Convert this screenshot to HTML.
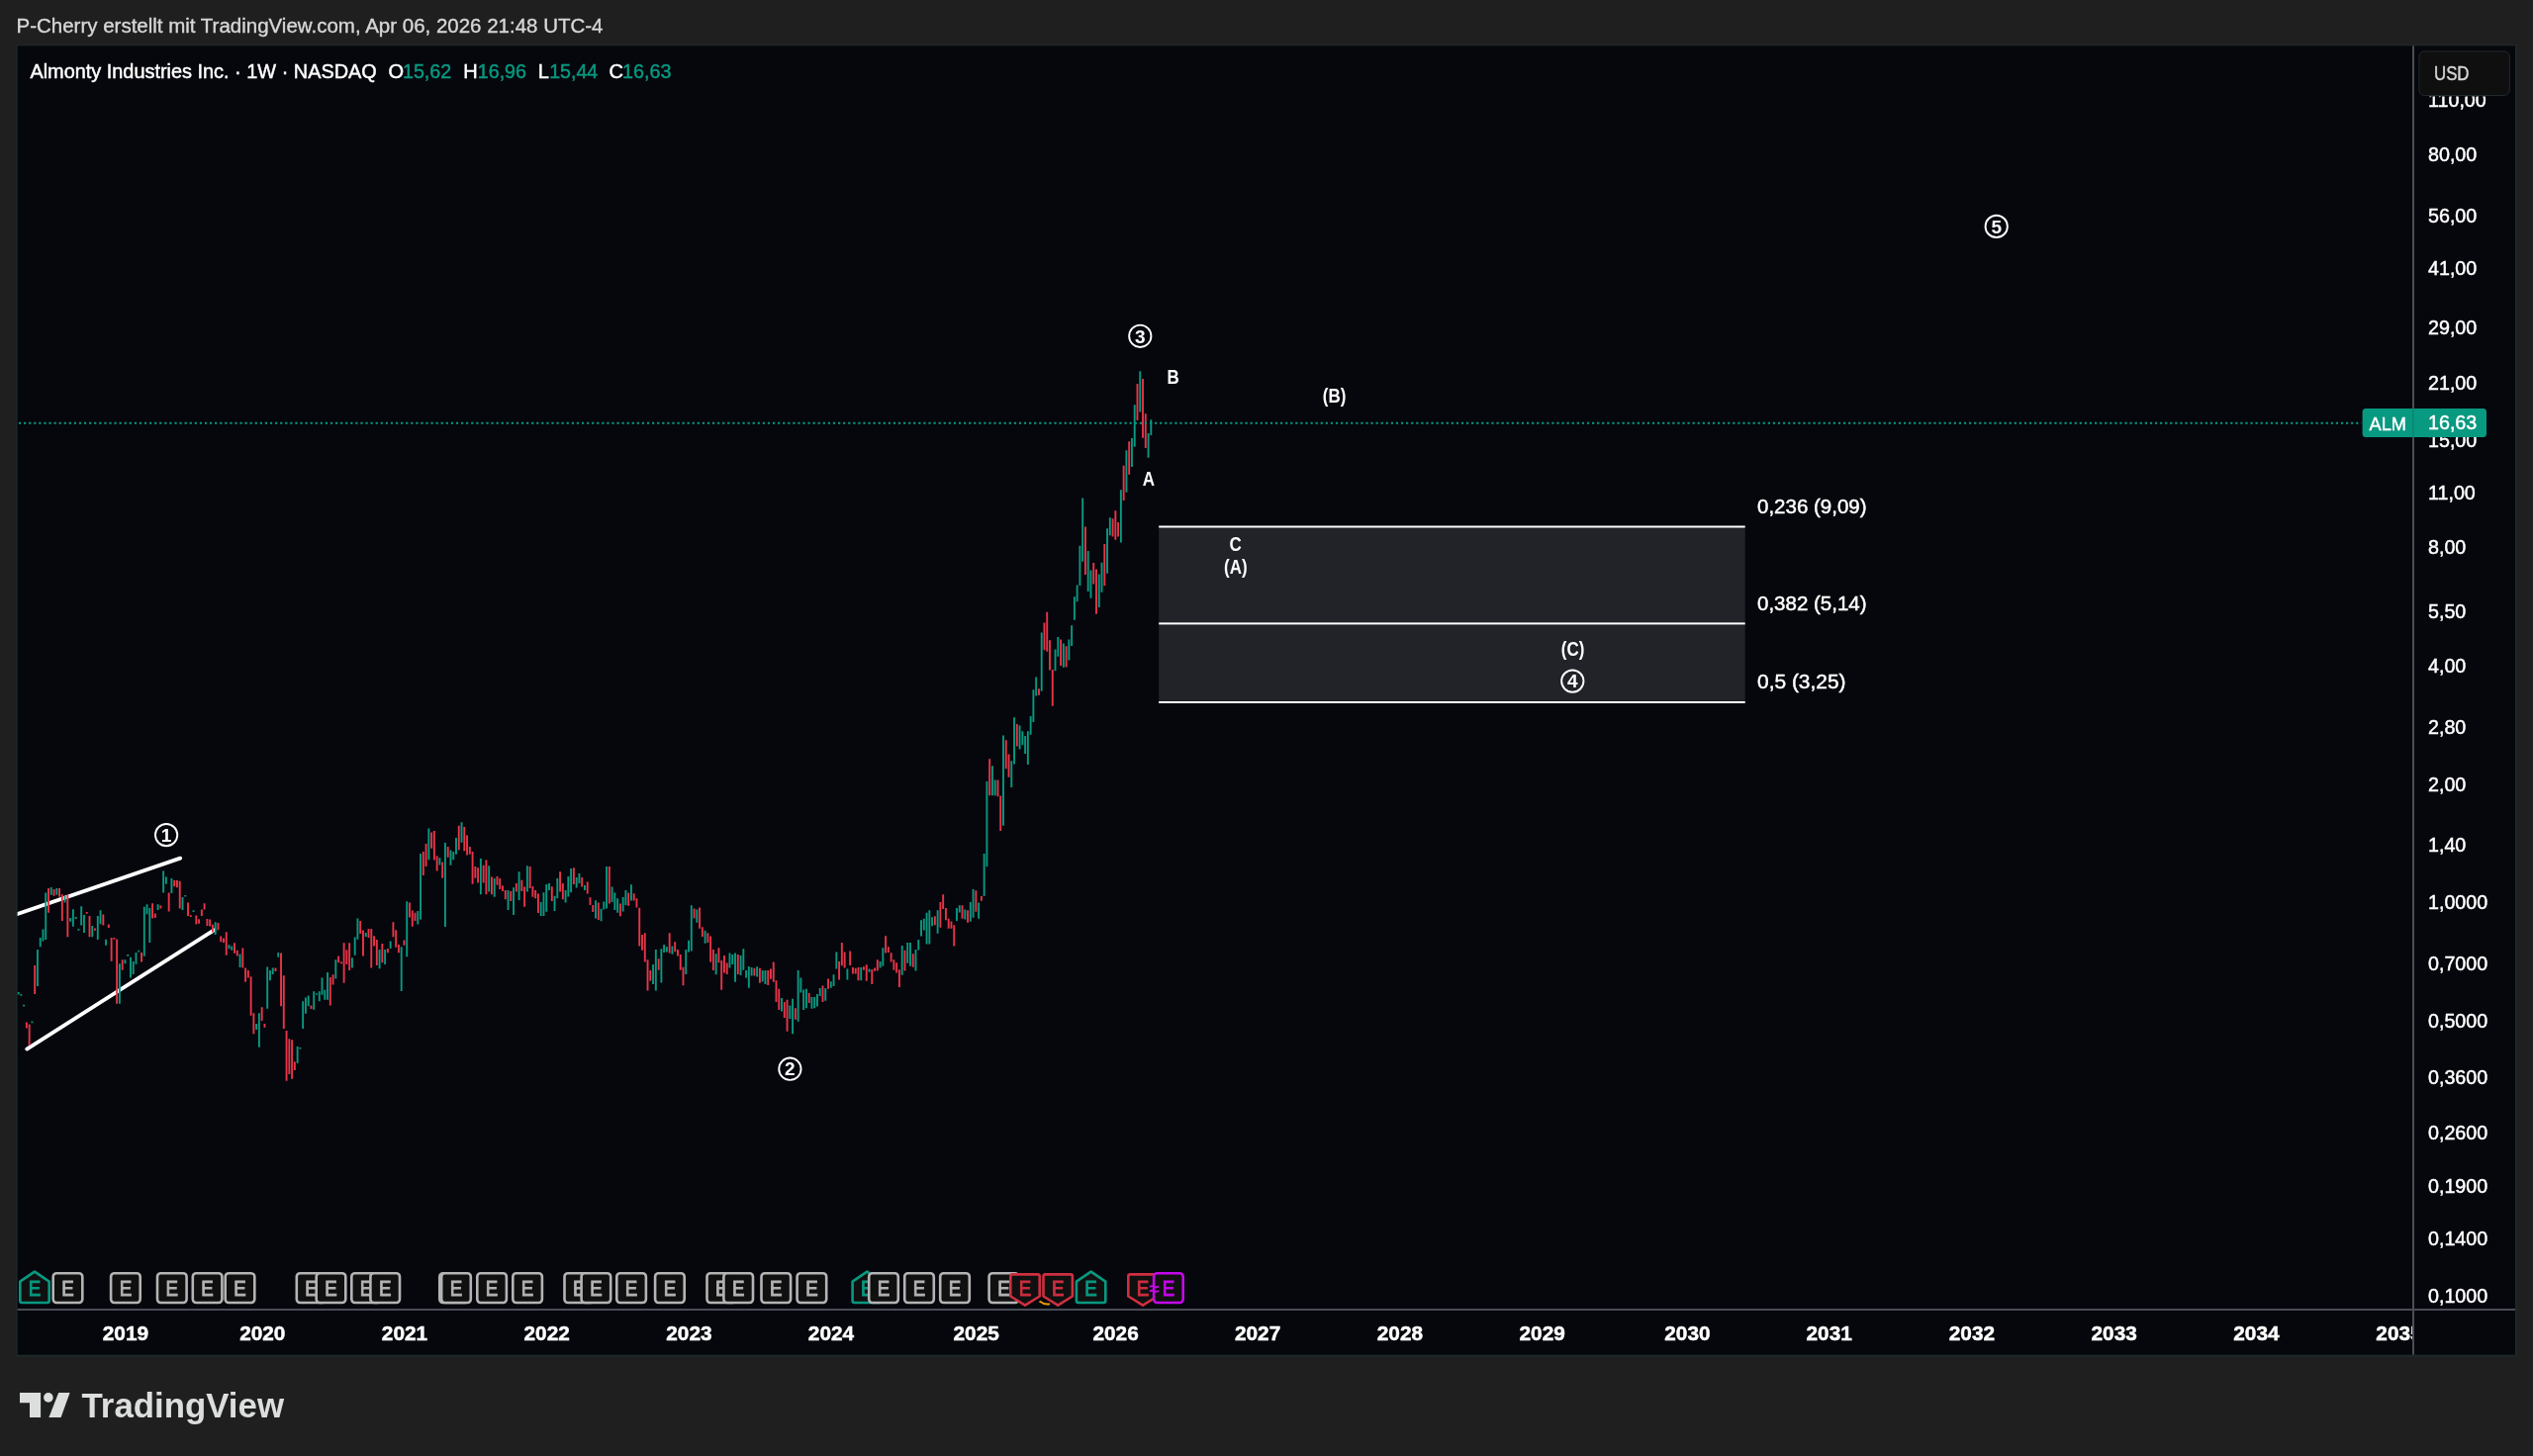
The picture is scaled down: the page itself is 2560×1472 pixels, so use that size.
<!DOCTYPE html>
<html lang="de"><head><meta charset="utf-8"><title>ALM 1W – TradingView</title>
<style>html,body{margin:0;padding:0;background:#1f1f1f;}body{width:2560px;height:1472px;overflow:hidden;}svg{display:block;will-change:transform;}</style></head>
<body>
<svg width="2560" height="1472" viewBox="0 0 2560 1472" font-family="'Liberation Sans', 'DejaVu Sans', sans-serif" shape-rendering="auto">
<defs><clipPath id="cpT"><rect x="17.6" y="1324" width="2420.4" height="45.6"/></clipPath><clipPath id="cpP"><rect x="2440" y="97.5" width="102.0" height="1226"/></clipPath><clipPath id="cpC"><rect x="17.6" y="46.3" width="2420.4" height="1277.7"/></clipPath></defs>
<rect width="2560" height="1472" fill="#1f1f1f"/>
<rect x="16.1" y="44.8" width="2527.6" height="1326.8" fill="#1e2829"/>
<rect x="17.6" y="46.3" width="2524.4" height="1323.3" fill="#06070d"/>
<text x="16.5" y="32.6" font-size="19.6" fill="#d7d7d7" stroke="#d7d7d7" stroke-width="0.35" textLength="593.0" lengthAdjust="spacingAndGlyphs">P-Cherry erstellt mit TradingView.com, Apr 06, 2026 21:48 UTC-4</text>
<text x="30.4" y="79.0" font-size="20" fill="#fff" stroke="#fff" stroke-width="0.45" textLength="350.4" lengthAdjust="spacingAndGlyphs">Almonty Industries Inc. · 1W · NASDAQ</text>
<text x="392.4" y="79.0" font-size="20" fill="#fff" stroke="#fff" stroke-width="0.45">O</text>
<text x="407.0" y="79.0" font-size="20" fill="#089981" stroke="#089981" stroke-width="0.45" textLength="49.2" lengthAdjust="spacingAndGlyphs">15,62</text>
<text x="468.2" y="79.0" font-size="20" fill="#fff" stroke="#fff" stroke-width="0.45">H</text>
<text x="482.8" y="79.0" font-size="20" fill="#089981" stroke="#089981" stroke-width="0.45" textLength="49.2" lengthAdjust="spacingAndGlyphs">16,96</text>
<text x="543.7" y="79.0" font-size="20" fill="#fff" stroke="#fff" stroke-width="0.45">L</text>
<text x="555.2" y="79.0" font-size="20" fill="#089981" stroke="#089981" stroke-width="0.45" textLength="49.1" lengthAdjust="spacingAndGlyphs">15,44</text>
<text x="615.6" y="79.0" font-size="20" fill="#fff" stroke="#fff" stroke-width="0.45">C</text>
<text x="629.0" y="79.0" font-size="20" fill="#089981" stroke="#089981" stroke-width="0.45" textLength="49.5" lengthAdjust="spacingAndGlyphs">16,63</text>
<g clip-path="url(#cpC)" stroke="#fff" stroke-width="3.8" stroke-linecap="round">
<line x1="10" y1="926.6" x2="182.2" y2="867.6"/>
<line x1="27.2" y1="1060.6" x2="216.2" y2="940.3"/>
</g>
<g clip-path="url(#cpC)">
<path fill="#089981" d="M17.64 1003.1h1.9v2.5h-1.9zM20.41 1005.1h1.9v1.6h-1.9zM23.17 1015.8h1.9v1.7h-1.9zM31.46 1032.5h1.9v1.8h-1.9zM36.99 959.9h1.9v37.2h-1.9zM39.76 948.1h1.9v9.1h-1.9zM42.52 939.4h1.9v12.1h-1.9zM45.29 902.5h1.9v47.4h-1.9zM50.82 897.0h1.9v7.8h-1.9zM56.35 898.0h1.9v6.8h-1.9zM64.64 905.7h1.9v6.9h-1.9zM70.17 928.0h1.9v3.8h-1.9zM72.94 919.2h1.9v17.6h-1.9zM75.70 927.0h1.9v2.0h-1.9zM78.47 939.0h1.9v1.7h-1.9zM81.23 916.2h1.9v19.3h-1.9zM84.00 925.0h1.9v18.0h-1.9zM92.30 936.1h1.9v11.1h-1.9zM97.83 926.0h1.9v23.9h-1.9zM100.59 920.2h1.9v14.0h-1.9zM106.12 949.8h1.9v5.9h-1.9zM119.95 974.2h1.9v40.5h-1.9zM125.48 970.3h1.9v3.9h-1.9zM128.24 965.1h1.9v1.7h-1.9zM131.01 967.7h1.9v20.9h-1.9zM133.77 972.0h1.9v13.1h-1.9zM136.54 963.1h1.9v11.7h-1.9zM139.30 960.8h1.9v1.7h-1.9zM144.83 916.8h1.9v50.0h-1.9zM147.60 914.2h1.9v10.1h-1.9zM150.36 918.1h1.9v34.9h-1.9zM158.66 914.2h1.9v5.9h-1.9zM164.19 880.5h1.9v21.9h-1.9zM166.95 886.5h1.9v7.2h-1.9zM172.48 888.1h1.9v14.8h-1.9zM183.54 907.0h1.9v13.1h-1.9zM186.31 905.0h1.9v1.6h-1.9zM194.60 920.3h1.9v1.6h-1.9zM216.72 932.2h1.9v12.7h-1.9zM230.55 955.3h1.9v3.9h-1.9zM233.31 956.6h1.9v4.2h-1.9zM241.61 964.4h1.9v13.7h-1.9zM258.19 1035.1h1.9v5.9h-1.9zM260.96 1024.2h1.9v34.6h-1.9zM269.25 977.4h1.9v42.4h-1.9zM272.02 981.1h1.9v10.1h-1.9zM274.79 978.5h1.9v6.4h-1.9zM280.31 963.1h1.9v4.6h-1.9zM299.67 1058.1h1.9v16.8h-1.9zM302.44 1059.0h1.9v1.6h-1.9zM305.20 1012.3h1.9v27.8h-1.9zM307.96 1008.4h1.9v16.4h-1.9zM310.73 1006.4h1.9v10.8h-1.9zM316.26 1002.2h1.9v18.5h-1.9zM319.02 1004.2h1.9v1.6h-1.9zM321.79 1002.2h1.9v10.1h-1.9zM324.56 988.5h1.9v17.2h-1.9zM327.32 1000.7h1.9v10.1h-1.9zM330.08 983.1h1.9v27.7h-1.9zM338.38 970.3h1.9v19.3h-1.9zM354.97 968.3h1.9v10.2h-1.9zM357.74 947.4h1.9v18.3h-1.9zM360.50 928.5h1.9v21.3h-1.9zM368.80 943.1h1.9v3.9h-1.9zM382.62 959.9h1.9v19.3h-1.9zM388.15 959.9h1.9v15.0h-1.9zM393.68 951.4h1.9v7.6h-1.9zM404.74 957.3h1.9v44.6h-1.9zM410.27 911.2h1.9v56.1h-1.9zM421.33 921.1h1.9v13.3h-1.9zM424.10 862.9h1.9v66.7h-1.9zM432.39 837.5h1.9v31.7h-1.9zM443.45 867.2h1.9v7.4h-1.9zM448.98 851.9h1.9v85.1h-1.9zM454.51 859.4h1.9v15.3h-1.9zM457.28 861.1h1.9v8.1h-1.9zM460.04 847.0h1.9v16.7h-1.9zM465.57 831.3h1.9v20.5h-1.9zM484.93 867.9h1.9v36.3h-1.9zM493.22 875.3h1.9v26.2h-1.9zM498.75 888.1h1.9v18.7h-1.9zM512.57 900.1h1.9v20.0h-1.9zM518.11 897.2h1.9v27.8h-1.9zM523.63 881.3h1.9v28.6h-1.9zM531.93 875.3h1.9v26.2h-1.9zM545.75 912.0h1.9v14.0h-1.9zM548.52 902.2h1.9v23.8h-1.9zM551.28 894.0h1.9v27.8h-1.9zM554.05 893.1h1.9v6.8h-1.9zM559.58 905.7h1.9v15.3h-1.9zM562.35 888.1h1.9v20.2h-1.9zM570.64 900.1h1.9v12.4h-1.9zM573.40 886.1h1.9v20.5h-1.9zM576.17 878.0h1.9v24.2h-1.9zM581.70 887.0h1.9v10.4h-1.9zM584.47 882.9h1.9v10.2h-1.9zM590.00 894.9h1.9v5.0h-1.9zM601.06 910.3h1.9v18.3h-1.9zM606.59 918.8h1.9v12.4h-1.9zM609.35 911.6h1.9v7.8h-1.9zM612.12 876.1h1.9v42.4h-1.9zM617.64 896.6h1.9v15.3h-1.9zM620.41 902.5h1.9v17.6h-1.9zM623.18 908.3h1.9v14.4h-1.9zM628.71 907.0h1.9v14.4h-1.9zM631.47 900.1h1.9v14.8h-1.9zM637.00 894.2h1.9v16.4h-1.9zM659.12 975.1h1.9v20.0h-1.9zM661.88 960.1h1.9v41.3h-1.9zM667.41 959.2h1.9v34.3h-1.9zM670.18 955.0h1.9v8.1h-1.9zM672.95 957.3h1.9v5.2h-1.9zM678.48 956.6h1.9v8.2h-1.9zM692.30 960.1h1.9v24.9h-1.9zM695.07 950.7h1.9v11.7h-1.9zM697.83 915.2h1.9v46.3h-1.9zM703.36 919.4h1.9v13.3h-1.9zM711.65 940.7h1.9v13.1h-1.9zM722.72 964.2h1.9v21.1h-1.9zM736.54 963.4h1.9v15.0h-1.9zM739.31 965.1h1.9v9.8h-1.9zM742.07 963.4h1.9v29.4h-1.9zM747.60 966.0h1.9v20.0h-1.9zM750.37 959.2h1.9v21.5h-1.9zM753.13 981.1h1.9v7.4h-1.9zM755.89 977.1h1.9v21.7h-1.9zM758.66 977.9h1.9v8.7h-1.9zM764.19 977.2h1.9v10.3h-1.9zM769.72 981.1h1.9v11.4h-1.9zM772.49 981.1h1.9v14.0h-1.9zM789.08 1009.1h1.9v13.4h-1.9zM797.37 1016.6h1.9v13.4h-1.9zM800.13 1009.8h1.9v35.5h-1.9zM805.67 981.1h1.9v51.6h-1.9zM808.43 988.6h1.9v15.0h-1.9zM811.20 1000.6h1.9v20.4h-1.9zM813.96 999.7h1.9v19.6h-1.9zM819.49 1008.1h1.9v11.7h-1.9zM822.25 1008.1h1.9v11.1h-1.9zM825.02 1004.9h1.9v12.7h-1.9zM827.78 999.0h1.9v8.1h-1.9zM833.32 999.0h1.9v12.7h-1.9zM838.85 992.2h1.9v6.5h-1.9zM841.61 985.3h1.9v11.7h-1.9zM844.38 962.5h1.9v17.0h-1.9zM855.44 979.4h1.9v11.1h-1.9zM869.26 977.9h1.9v13.3h-1.9zM877.56 979.4h1.9v3.3h-1.9zM888.62 972.0h1.9v6.6h-1.9zM891.38 958.2h1.9v18.6h-1.9zM910.74 956.0h1.9v29.8h-1.9zM916.26 953.1h1.9v20.7h-1.9zM919.03 953.1h1.9v23.7h-1.9zM924.56 960.0h1.9v21.6h-1.9zM927.33 950.0h1.9v10.6h-1.9zM930.09 930.3h1.9v16.1h-1.9zM932.86 928.7h1.9v11.7h-1.9zM935.62 922.7h1.9v31.9h-1.9zM938.38 920.3h1.9v34.3h-1.9zM941.15 927.2h1.9v9.0h-1.9zM946.68 920.3h1.9v23.4h-1.9zM966.04 917.9h1.9v13.2h-1.9zM968.80 915.3h1.9v7.2h-1.9zM974.33 919.5h1.9v10.1h-1.9zM979.86 911.9h1.9v19.8h-1.9zM982.62 899.0h1.9v28.7h-1.9zM988.16 912.5h1.9v16.2h-1.9zM993.69 862.9h1.9v43.0h-1.9zM996.45 790.1h1.9v85.9h-1.9zM1001.98 774.2h1.9v30.0h-1.9zM1004.75 788.4h1.9v15.9h-1.9zM1013.04 743.5h1.9v91.3h-1.9zM1021.34 769.2h1.9v26.7h-1.9zM1024.10 725.2h1.9v47.2h-1.9zM1029.63 733.5h1.9v24.1h-1.9zM1032.39 739.3h1.9v14.0h-1.9zM1035.16 743.9h1.9v18.0h-1.9zM1037.92 739.3h1.9v33.8h-1.9zM1040.69 724.1h1.9v18.6h-1.9zM1043.45 697.3h1.9v32.7h-1.9zM1046.22 684.4h1.9v19.2h-1.9zM1051.75 639.6h1.9v59.1h-1.9zM1065.57 656.6h1.9v21.6h-1.9zM1068.34 644.0h1.9v19.8h-1.9zM1073.87 650.5h1.9v24.2h-1.9zM1079.40 646.4h1.9v21.2h-1.9zM1082.16 632.2h1.9v20.8h-1.9zM1084.93 603.3h1.9v23.4h-1.9zM1087.69 591.5h1.9v16.7h-1.9zM1090.46 551.8h1.9v40.3h-1.9zM1093.22 503.4h1.9v64.3h-1.9zM1098.75 556.9h1.9v41.0h-1.9zM1101.52 576.4h1.9v28.4h-1.9zM1109.81 580.5h1.9v33.5h-1.9zM1112.58 568.7h1.9v30.0h-1.9zM1118.11 534.2h1.9v45.5h-1.9zM1120.88 523.2h1.9v18.0h-1.9zM1131.93 495.2h1.9v53.2h-1.9zM1137.46 455.3h1.9v42.4h-1.9zM1142.99 443.0h1.9v29.1h-1.9zM1145.76 409.3h1.9v42.5h-1.9zM1151.29 375.2h1.9v41.2h-1.9zM1159.59 437.9h1.9v24.9h-1.9zM1162.35 424.3h1.9v15.7h-1.9z"/>
<path fill="#e83548" d="M25.93 1033.4h1.9v6.1h-1.9zM28.70 1035.4h1.9v21.5h-1.9zM34.23 976.0h1.9v29.0h-1.9zM48.05 898.0h1.9v24.7h-1.9zM53.58 898.9h1.9v6.8h-1.9zM59.11 898.0h1.9v8.7h-1.9zM61.88 904.2h1.9v26.8h-1.9zM67.41 904.4h1.9v42.8h-1.9zM86.77 922.0h1.9v1.7h-1.9zM89.53 926.0h1.9v21.3h-1.9zM95.06 938.4h1.9v2.3h-1.9zM103.36 924.4h1.9v11.1h-1.9zM108.89 934.6h1.9v3.3h-1.9zM111.65 948.1h1.9v23.6h-1.9zM114.42 948.1h1.9v1.7h-1.9zM117.18 949.4h1.9v65.3h-1.9zM122.71 970.3h1.9v10.4h-1.9zM142.07 963.1h1.9v9.4h-1.9zM153.13 913.3h1.9v15.3h-1.9zM155.89 923.6h1.9v4.3h-1.9zM161.42 915.5h1.9v3.0h-1.9zM169.72 902.4h1.9v19.2h-1.9zM175.25 890.0h1.9v6.3h-1.9zM178.01 890.0h1.9v7.2h-1.9zM180.78 890.7h1.9v27.8h-1.9zM189.07 912.6h1.9v13.3h-1.9zM191.84 925.3h1.9v1.7h-1.9zM197.37 925.5h1.9v9.1h-1.9zM200.13 929.2h1.9v4.6h-1.9zM202.90 919.4h1.9v6.5h-1.9zM205.66 913.3h1.9v6.1h-1.9zM208.43 928.9h1.9v7.2h-1.9zM211.19 929.6h1.9v6.8h-1.9zM213.96 934.7h1.9v7.8h-1.9zM219.49 933.1h1.9v7.2h-1.9zM222.25 946.4h1.9v5.9h-1.9zM225.02 948.5h1.9v4.6h-1.9zM227.78 942.2h1.9v23.5h-1.9zM236.08 953.3h1.9v10.4h-1.9zM238.84 960.8h1.9v5.6h-1.9zM244.37 958.6h1.9v20.0h-1.9zM247.14 978.4h1.9v14.4h-1.9zM249.90 981.1h1.9v7.4h-1.9zM252.67 987.2h1.9v39.6h-1.9zM255.43 1024.2h1.9v21.1h-1.9zM263.73 1018.3h1.9v13.6h-1.9zM266.49 1035.1h1.9v3.7h-1.9zM277.55 978.5h1.9v3.5h-1.9zM283.08 963.5h1.9v53.8h-1.9zM285.84 986.3h1.9v53.8h-1.9zM288.61 1042.1h1.9v50.7h-1.9zM291.38 1050.3h1.9v35.8h-1.9zM294.14 1051.2h1.9v39.6h-1.9zM296.90 1073.4h1.9v8.5h-1.9zM313.50 1016.6h1.9v3.3h-1.9zM332.85 987.9h1.9v28.7h-1.9zM335.62 985.3h1.9v10.2h-1.9zM341.14 966.6h1.9v6.7h-1.9zM343.91 972.2h1.9v2.0h-1.9zM346.68 953.3h1.9v40.5h-1.9zM349.44 960.2h1.9v14.9h-1.9zM352.20 953.3h1.9v27.7h-1.9zM363.26 931.1h1.9v12.8h-1.9zM366.03 940.5h1.9v26.1h-1.9zM371.56 938.9h1.9v9.1h-1.9zM374.32 939.0h1.9v39.6h-1.9zM377.09 946.2h1.9v10.2h-1.9zM379.86 949.9h1.9v26.1h-1.9zM385.38 954.0h1.9v19.3h-1.9zM390.92 959.0h1.9v4.2h-1.9zM396.44 932.2h1.9v15.0h-1.9zM399.21 940.3h1.9v17.4h-1.9zM401.98 955.1h1.9v8.1h-1.9zM407.50 950.5h1.9v5.2h-1.9zM413.04 912.5h1.9v15.1h-1.9zM415.80 920.4h1.9v16.4h-1.9zM418.56 922.7h1.9v8.2h-1.9zM426.86 861.1h1.9v23.8h-1.9zM429.62 852.9h1.9v23.1h-1.9zM435.16 841.5h1.9v16.2h-1.9zM437.92 840.1h1.9v29.4h-1.9zM440.69 865.3h1.9v15.3h-1.9zM446.22 871.4h1.9v16.4h-1.9zM451.75 856.1h1.9v10.7h-1.9zM462.81 834.8h1.9v24.5h-1.9zM468.33 835.9h1.9v24.4h-1.9zM471.10 844.4h1.9v20.0h-1.9zM473.87 856.1h1.9v7.6h-1.9zM476.63 861.1h1.9v32.6h-1.9zM479.39 876.1h1.9v11.7h-1.9zM482.16 877.3h1.9v15.1h-1.9zM487.69 874.8h1.9v17.6h-1.9zM490.45 869.6h1.9v34.6h-1.9zM495.99 886.4h1.9v17.8h-1.9zM501.51 886.1h1.9v8.7h-1.9zM504.28 888.1h1.9v10.8h-1.9zM507.05 895.5h1.9v5.4h-1.9zM509.81 900.1h1.9v9.1h-1.9zM515.34 900.9h1.9v10.1h-1.9zM520.87 893.1h1.9v8.5h-1.9zM526.40 889.8h1.9v11.1h-1.9zM529.16 896.6h1.9v20.2h-1.9zM534.70 876.0h1.9v21.9h-1.9zM537.46 895.9h1.9v10.8h-1.9zM540.23 900.1h1.9v8.2h-1.9zM542.99 903.4h1.9v19.6h-1.9zM556.82 896.3h1.9v14.6h-1.9zM565.11 881.3h1.9v20.2h-1.9zM567.88 893.1h1.9v16.2h-1.9zM578.94 877.3h1.9v16.7h-1.9zM587.23 887.0h1.9v9.5h-1.9zM592.76 891.4h1.9v12.0h-1.9zM595.52 907.3h1.9v7.8h-1.9zM598.29 915.1h1.9v6.9h-1.9zM603.82 912.5h1.9v17.4h-1.9zM614.88 876.1h1.9v37.5h-1.9zM625.94 913.6h1.9v12.7h-1.9zM634.24 902.4h1.9v13.3h-1.9zM639.76 903.3h1.9v7.3h-1.9zM642.53 908.3h1.9v9.1h-1.9zM645.29 917.8h1.9v38.8h-1.9zM648.06 944.9h1.9v15.9h-1.9zM650.83 943.2h1.9v29.4h-1.9zM653.59 970.3h1.9v31.1h-1.9zM656.36 981.1h1.9v10.7h-1.9zM664.65 969.3h1.9v11.5h-1.9zM675.71 943.2h1.9v20.2h-1.9zM681.24 952.3h1.9v9.9h-1.9zM684.00 960.1h1.9v6.5h-1.9zM686.77 965.1h1.9v15.7h-1.9zM689.53 977.8h1.9v18.4h-1.9zM700.60 918.5h1.9v10.1h-1.9zM706.12 917.4h1.9v21.3h-1.9zM708.89 937.3h1.9v9.8h-1.9zM714.42 943.2h1.9v9.9h-1.9zM717.19 946.4h1.9v26.1h-1.9zM719.95 960.1h1.9v20.9h-1.9zM725.48 958.3h1.9v15.0h-1.9zM728.25 971.0h1.9v29.8h-1.9zM731.01 966.0h1.9v17.4h-1.9zM733.77 973.6h1.9v11.5h-1.9zM744.84 965.1h1.9v20.0h-1.9zM761.43 978.8h1.9v7.8h-1.9zM766.96 978.8h1.9v15.0h-1.9zM775.25 981.1h1.9v14.9h-1.9zM778.01 979.4h1.9v10.4h-1.9zM780.78 972.6h1.9v20.1h-1.9zM783.55 991.2h1.9v21.9h-1.9zM786.31 999.7h1.9v21.3h-1.9zM791.84 1013.1h1.9v15.9h-1.9zM794.61 1010.8h1.9v32.0h-1.9zM802.90 1019.2h1.9v11.5h-1.9zM816.73 1004.0h1.9v10.1h-1.9zM830.55 996.4h1.9v16.7h-1.9zM836.08 989.6h1.9v10.1h-1.9zM847.14 972.0h1.9v18.5h-1.9zM849.90 953.1h1.9v23.1h-1.9zM852.67 962.5h1.9v16.1h-1.9zM858.20 961.5h1.9v14.4h-1.9zM860.97 977.9h1.9v6.5h-1.9zM863.73 978.8h1.9v5.6h-1.9zM866.50 977.9h1.9v13.3h-1.9zM872.02 977.2h1.9v3.5h-1.9zM874.79 975.2h1.9v16.6h-1.9zM880.32 980.1h1.9v14.8h-1.9zM883.09 978.5h1.9v3.3h-1.9zM885.85 970.2h1.9v11.4h-1.9zM894.14 946.2h1.9v17.2h-1.9zM896.91 957.3h1.9v5.6h-1.9zM899.68 963.3h1.9v9.3h-1.9zM902.44 970.2h1.9v10.6h-1.9zM905.21 973.2h1.9v10.2h-1.9zM907.97 980.2h1.9v17.7h-1.9zM913.50 960.8h1.9v20.8h-1.9zM921.80 964.2h1.9v13.5h-1.9zM943.92 926.3h1.9v9.0h-1.9zM949.45 911.9h1.9v25.8h-1.9zM952.21 904.3h1.9v14.8h-1.9zM954.98 917.9h1.9v12.4h-1.9zM957.74 928.7h1.9v10.0h-1.9zM960.50 931.4h1.9v7.3h-1.9zM963.27 935.3h1.9v21.3h-1.9zM971.57 915.3h1.9v13.5h-1.9zM977.10 920.3h1.9v12.4h-1.9zM985.39 900.2h1.9v21.5h-1.9zM990.92 905.9h1.9v4.8h-1.9zM999.22 767.3h1.9v36.9h-1.9zM1007.51 788.4h1.9v16.9h-1.9zM1010.27 804.5h1.9v35.4h-1.9zM1015.81 748.2h1.9v29.1h-1.9zM1018.57 762.4h1.9v23.4h-1.9zM1026.87 731.9h1.9v22.5h-1.9zM1048.98 696.2h1.9v6.6h-1.9zM1054.51 629.5h1.9v27.7h-1.9zM1057.28 618.7h1.9v40.1h-1.9zM1060.04 647.3h1.9v30.2h-1.9zM1062.81 676.9h1.9v36.8h-1.9zM1071.11 646.4h1.9v26.7h-1.9zM1076.63 653.3h1.9v21.1h-1.9zM1095.99 532.5h1.9v48.6h-1.9zM1104.28 569.0h1.9v21.4h-1.9zM1107.05 575.4h1.9v45.3h-1.9zM1115.35 550.1h1.9v42.2h-1.9zM1123.64 524.3h1.9v18.1h-1.9zM1126.40 516.3h1.9v29.5h-1.9zM1129.17 528.1h1.9v14.5h-1.9zM1134.70 470.8h1.9v35.2h-1.9zM1140.23 446.3h1.9v33.5h-1.9zM1148.52 387.9h1.9v37.0h-1.9zM1154.05 382.9h1.9v59.9h-1.9zM1156.82 418.3h1.9v34.6h-1.9z"/>
</g>
<rect x="1171.2" y="532.5" width="592.5" height="177.5" fill="#212329"/>
<rect x="1171.2" y="531.5" width="592.5" height="2" fill="#fff"/>
<rect x="1171.2" y="629.4" width="592.5" height="2" fill="#fff"/>
<rect x="1171.2" y="709.0" width="592.5" height="2" fill="#fff"/>
<text x="1776.0" y="518.9" font-size="20" fill="#fff" stroke="#fff" stroke-width="0.45" textLength="110.5" lengthAdjust="spacingAndGlyphs">0,236 (9,09)</text>
<text x="1776.0" y="616.8" font-size="20" fill="#fff" stroke="#fff" stroke-width="0.45" textLength="110.5" lengthAdjust="spacingAndGlyphs">0,382 (5,14)</text>
<text x="1776.0" y="696.4" font-size="20" fill="#fff" stroke="#fff" stroke-width="0.45" textLength="89.5" lengthAdjust="spacingAndGlyphs">0,5 (3,25)</text>
<line x1="18.95" y1="427.7" x2="2386.5" y2="427.7" stroke="#089981" stroke-width="2" stroke-dasharray="2.2 2.88"/>
<circle cx="168.1" cy="844.1" r="11.15" fill="none" stroke="#fff" stroke-width="1.9"/>
<text x="168.1" y="850.8" font-size="19" fill="#fff" font-weight="bold" text-anchor="middle">1</text>
<circle cx="798.4" cy="1080.7" r="11.15" fill="none" stroke="#fff" stroke-width="1.9"/>
<text x="798.4" y="1087.4" font-size="19" fill="#fff" font-weight="bold" text-anchor="middle">2</text>
<circle cx="1152.3" cy="339.8" r="11.15" fill="none" stroke="#fff" stroke-width="1.9"/>
<text x="1152.3" y="346.5" font-size="19" fill="#fff" font-weight="bold" text-anchor="middle">3</text>
<circle cx="1589.3" cy="688.6" r="11.15" fill="none" stroke="#fff" stroke-width="1.9"/>
<text x="1589.3" y="695.3" font-size="19" fill="#fff" font-weight="bold" text-anchor="middle">4</text>
<circle cx="2017.7" cy="228.9" r="11.15" fill="none" stroke="#fff" stroke-width="1.9"/>
<text x="2017.7" y="235.6" font-size="19" fill="#fff" font-weight="bold" text-anchor="middle">5</text>
<text transform="translate(1185.6 388.0) scale(0.88 1)" font-size="19.3" font-weight="bold" text-anchor="middle" fill="#fff">B</text>
<text transform="translate(1348.6 407.1) scale(0.88 1)" font-size="19.3" font-weight="bold" text-anchor="middle" fill="#fff">(B)</text>
<text transform="translate(1160.8 490.9) scale(0.88 1)" font-size="19.3" font-weight="bold" text-anchor="middle" fill="#fff">A</text>
<text transform="translate(1248.6 556.6) scale(0.88 1)" font-size="19.3" font-weight="bold" text-anchor="middle" fill="#fff">C</text>
<text transform="translate(1248.9 580.3) scale(0.88 1)" font-size="19.3" font-weight="bold" text-anchor="middle" fill="#fff">(A)</text>
<text transform="translate(1589.6 663.1) scale(0.88 1)" font-size="19.3" font-weight="bold" text-anchor="middle" fill="#fff">(C)</text>
<rect x="2438" y="46.3" width="2" height="1323.3" fill="#4a4d56"/>
<rect x="17.6" y="1323" width="2524.4" height="2" fill="#4a4d56"/>
<g clip-path="url(#cpP)">
<text x="2454.0" y="107.9" font-size="19.7" fill="#fff" stroke="#fff" stroke-width="0.45">110,00</text>
<text x="2454.0" y="162.9" font-size="19.7" fill="#fff" stroke="#fff" stroke-width="0.45">80,00</text>
<text x="2454.0" y="224.5" font-size="19.7" fill="#fff" stroke="#fff" stroke-width="0.45">56,00</text>
<text x="2454.0" y="278.3" font-size="19.7" fill="#fff" stroke="#fff" stroke-width="0.45">41,00</text>
<text x="2454.0" y="338.1" font-size="19.7" fill="#fff" stroke="#fff" stroke-width="0.45">29,00</text>
<text x="2454.0" y="393.8" font-size="19.7" fill="#fff" stroke="#fff" stroke-width="0.45">21,00</text>
<text x="2454.0" y="451.9" font-size="19.7" fill="#fff" stroke="#fff" stroke-width="0.45">15,00</text>
<text x="2454.0" y="505.4" font-size="19.7" fill="#fff" stroke="#fff" stroke-width="0.45">11,00</text>
<text x="2454.0" y="560.4" font-size="19.7" fill="#fff" stroke="#fff" stroke-width="0.45">8,00</text>
<text x="2454.0" y="625.1" font-size="19.7" fill="#fff" stroke="#fff" stroke-width="0.45">5,50</text>
<text x="2454.0" y="680.1" font-size="19.7" fill="#fff" stroke="#fff" stroke-width="0.45">4,00</text>
<text x="2454.0" y="741.6" font-size="19.7" fill="#fff" stroke="#fff" stroke-width="0.45">2,80</text>
<text x="2454.0" y="799.7" font-size="19.7" fill="#fff" stroke="#fff" stroke-width="0.45">2,00</text>
<text x="2454.0" y="861.3" font-size="19.7" fill="#fff" stroke="#fff" stroke-width="0.45">1,40</text>
<text x="2454.0" y="919.4" font-size="19.7" fill="#fff" stroke="#fff" stroke-width="0.45">1,0000</text>
<text x="2454.0" y="981.0" font-size="19.7" fill="#fff" stroke="#fff" stroke-width="0.45">0,7000</text>
<text x="2454.0" y="1039.1" font-size="19.7" fill="#fff" stroke="#fff" stroke-width="0.45">0,5000</text>
<text x="2454.0" y="1095.8" font-size="19.7" fill="#fff" stroke="#fff" stroke-width="0.45">0,3600</text>
<text x="2454.0" y="1152.0" font-size="19.7" fill="#fff" stroke="#fff" stroke-width="0.45">0,2600</text>
<text x="2454.0" y="1206.1" font-size="19.7" fill="#fff" stroke="#fff" stroke-width="0.45">0,1900</text>
<text x="2454.0" y="1258.8" font-size="19.7" fill="#fff" stroke="#fff" stroke-width="0.45">0,1400</text>
<text x="2454.0" y="1316.9" font-size="19.7" fill="#fff" stroke="#fff" stroke-width="0.45">0,1000</text>
</g>
<rect x="2444.9" y="51.9" width="91.4" height="44.6" rx="5.5" fill="#0f0f0f" stroke="#232a2d" stroke-width="1"/>
<text x="2460.0" y="80.8" font-size="19.5" fill="#d4d4d6" stroke="#d4d4d6" stroke-width="0.45" textLength="35.5" lengthAdjust="spacingAndGlyphs">USD</text>
<rect x="2387.6" y="413" width="125.4" height="29" rx="3.5" fill="#089981"/>
<rect x="2438" y="413" width="1.6" height="29" fill="#0b8671"/>
<text x="2394.6" y="434.6" font-size="19" fill="#fff" stroke="#fff" stroke-width="0.45" textLength="37.4" lengthAdjust="spacingAndGlyphs">ALM</text>
<text x="2454.0" y="434.3" font-size="19.7" fill="#fff" stroke="#fff" stroke-width="0.45">16,63</text>
<g clip-path="url(#cpT)">
<text x="126.9" y="1354.9" font-size="20.5" fill="#fff" stroke="#fff" stroke-width="0.45" font-weight="bold" text-anchor="middle" textLength="46.3" lengthAdjust="spacingAndGlyphs">2019</text>
<text x="265.3" y="1354.9" font-size="20.5" fill="#fff" stroke="#fff" stroke-width="0.45" font-weight="bold" text-anchor="middle" textLength="46.3" lengthAdjust="spacingAndGlyphs">2020</text>
<text x="409.0" y="1354.9" font-size="20.5" fill="#fff" stroke="#fff" stroke-width="0.45" font-weight="bold" text-anchor="middle" textLength="46.3" lengthAdjust="spacingAndGlyphs">2021</text>
<text x="552.7" y="1354.9" font-size="20.5" fill="#fff" stroke="#fff" stroke-width="0.45" font-weight="bold" text-anchor="middle" textLength="46.3" lengthAdjust="spacingAndGlyphs">2022</text>
<text x="696.4" y="1354.9" font-size="20.5" fill="#fff" stroke="#fff" stroke-width="0.45" font-weight="bold" text-anchor="middle" textLength="46.3" lengthAdjust="spacingAndGlyphs">2023</text>
<text x="840.0" y="1354.9" font-size="20.5" fill="#fff" stroke="#fff" stroke-width="0.45" font-weight="bold" text-anchor="middle" textLength="46.3" lengthAdjust="spacingAndGlyphs">2024</text>
<text x="986.7" y="1354.9" font-size="20.5" fill="#fff" stroke="#fff" stroke-width="0.45" font-weight="bold" text-anchor="middle" textLength="46.3" lengthAdjust="spacingAndGlyphs">2025</text>
<text x="1127.6" y="1354.9" font-size="20.5" fill="#fff" stroke="#fff" stroke-width="0.45" font-weight="bold" text-anchor="middle" textLength="46.3" lengthAdjust="spacingAndGlyphs">2026</text>
<text x="1271.1" y="1354.9" font-size="20.5" fill="#fff" stroke="#fff" stroke-width="0.45" font-weight="bold" text-anchor="middle" textLength="46.3" lengthAdjust="spacingAndGlyphs">2027</text>
<text x="1414.9" y="1354.9" font-size="20.5" fill="#fff" stroke="#fff" stroke-width="0.45" font-weight="bold" text-anchor="middle" textLength="46.3" lengthAdjust="spacingAndGlyphs">2028</text>
<text x="1558.7" y="1354.9" font-size="20.5" fill="#fff" stroke="#fff" stroke-width="0.45" font-weight="bold" text-anchor="middle" textLength="46.3" lengthAdjust="spacingAndGlyphs">2029</text>
<text x="1705.4" y="1354.9" font-size="20.5" fill="#fff" stroke="#fff" stroke-width="0.45" font-weight="bold" text-anchor="middle" textLength="46.3" lengthAdjust="spacingAndGlyphs">2030</text>
<text x="1848.7" y="1354.9" font-size="20.5" fill="#fff" stroke="#fff" stroke-width="0.45" font-weight="bold" text-anchor="middle" textLength="46.3" lengthAdjust="spacingAndGlyphs">2031</text>
<text x="1992.9" y="1354.9" font-size="20.5" fill="#fff" stroke="#fff" stroke-width="0.45" font-weight="bold" text-anchor="middle" textLength="46.3" lengthAdjust="spacingAndGlyphs">2032</text>
<text x="2136.7" y="1354.9" font-size="20.5" fill="#fff" stroke="#fff" stroke-width="0.45" font-weight="bold" text-anchor="middle" textLength="46.3" lengthAdjust="spacingAndGlyphs">2033</text>
<text x="2280.4" y="1354.9" font-size="20.5" fill="#fff" stroke="#fff" stroke-width="0.45" font-weight="bold" text-anchor="middle" textLength="46.3" lengthAdjust="spacingAndGlyphs">2034</text>
<text x="2424.5" y="1354.9" font-size="20.5" fill="#fff" stroke="#fff" stroke-width="0.45" font-weight="bold" text-anchor="middle" textLength="46.3" lengthAdjust="spacingAndGlyphs">2035</text>
</g>
<g clip-path="url(#cpC)">
<path d="M20.3 1315.0V1295.6L35.0 1285.6L49.7 1295.6V1315.0Q49.7 1317.0 47.7 1317.0H22.3Q20.3 1317.0 20.3 1315.0Z" fill="#101010" stroke="#089981" stroke-width="2.6" stroke-linejoin="round"/>
<text transform="translate(35.0 1310.3) scale(0.84 1)" font-size="22.3" text-anchor="middle" fill="#089981" stroke="#089981" stroke-width="0.9">E</text>
<rect x="53.7" y="1287.2" width="29.6" height="29.8" rx="3.5" fill="#101010" stroke="#b4b4b4" stroke-width="2.6"/>
<text transform="translate(68.5 1310.3) scale(0.84 1)" font-size="22.3" text-anchor="middle" fill="#b4b4b4" stroke="#b4b4b4" stroke-width="0.9">E</text>
<rect x="112.1" y="1287.2" width="29.6" height="29.8" rx="3.5" fill="#101010" stroke="#b4b4b4" stroke-width="2.6"/>
<text transform="translate(126.9 1310.3) scale(0.84 1)" font-size="22.3" text-anchor="middle" fill="#b4b4b4" stroke="#b4b4b4" stroke-width="0.9">E</text>
<rect x="159.0" y="1287.2" width="29.6" height="29.8" rx="3.5" fill="#101010" stroke="#b4b4b4" stroke-width="2.6"/>
<text transform="translate(173.8 1310.3) scale(0.84 1)" font-size="22.3" text-anchor="middle" fill="#b4b4b4" stroke="#b4b4b4" stroke-width="0.9">E</text>
<rect x="194.8" y="1287.2" width="29.6" height="29.8" rx="3.5" fill="#101010" stroke="#b4b4b4" stroke-width="2.6"/>
<text transform="translate(209.6 1310.3) scale(0.84 1)" font-size="22.3" text-anchor="middle" fill="#b4b4b4" stroke="#b4b4b4" stroke-width="0.9">E</text>
<rect x="227.7" y="1287.2" width="29.6" height="29.8" rx="3.5" fill="#101010" stroke="#b4b4b4" stroke-width="2.6"/>
<text transform="translate(242.5 1310.3) scale(0.84 1)" font-size="22.3" text-anchor="middle" fill="#b4b4b4" stroke="#b4b4b4" stroke-width="0.9">E</text>
<rect x="299.8" y="1287.2" width="29.6" height="29.8" rx="3.5" fill="#101010" stroke="#b4b4b4" stroke-width="2.6"/>
<text transform="translate(314.6 1310.3) scale(0.84 1)" font-size="22.3" text-anchor="middle" fill="#b4b4b4" stroke="#b4b4b4" stroke-width="0.9">E</text>
<rect x="319.7" y="1287.2" width="29.6" height="29.8" rx="3.5" fill="#101010" stroke="#b4b4b4" stroke-width="2.6"/>
<text transform="translate(334.5 1310.3) scale(0.84 1)" font-size="22.3" text-anchor="middle" fill="#b4b4b4" stroke="#b4b4b4" stroke-width="0.9">E</text>
<rect x="355.3" y="1287.2" width="29.6" height="29.8" rx="3.5" fill="#101010" stroke="#b4b4b4" stroke-width="2.6"/>
<text transform="translate(370.1 1310.3) scale(0.84 1)" font-size="22.3" text-anchor="middle" fill="#b4b4b4" stroke="#b4b4b4" stroke-width="0.9">E</text>
<rect x="374.4" y="1287.2" width="29.6" height="29.8" rx="3.5" fill="#101010" stroke="#b4b4b4" stroke-width="2.6"/>
<text transform="translate(389.2 1310.3) scale(0.84 1)" font-size="22.3" text-anchor="middle" fill="#b4b4b4" stroke="#b4b4b4" stroke-width="0.9">E</text>
<rect x="444.3" y="1287.2" width="29.6" height="29.8" rx="3.5" fill="#101010" stroke="#b4b4b4" stroke-width="2.6"/>
<text transform="translate(459.1 1310.3) scale(0.84 1)" font-size="22.3" text-anchor="middle" fill="#b4b4b4" stroke="#b4b4b4" stroke-width="0.9">E</text>
<rect x="446.2" y="1287.2" width="29.6" height="29.8" rx="3.5" fill="#101010" stroke="#b4b4b4" stroke-width="2.6"/>
<text transform="translate(461.0 1310.3) scale(0.84 1)" font-size="22.3" text-anchor="middle" fill="#b4b4b4" stroke="#b4b4b4" stroke-width="0.9">E</text>
<rect x="482.3" y="1287.2" width="29.6" height="29.8" rx="3.5" fill="#101010" stroke="#b4b4b4" stroke-width="2.6"/>
<text transform="translate(497.1 1310.3) scale(0.84 1)" font-size="22.3" text-anchor="middle" fill="#b4b4b4" stroke="#b4b4b4" stroke-width="0.9">E</text>
<rect x="518.3" y="1287.2" width="29.6" height="29.8" rx="3.5" fill="#101010" stroke="#b4b4b4" stroke-width="2.6"/>
<text transform="translate(533.1 1310.3) scale(0.84 1)" font-size="22.3" text-anchor="middle" fill="#b4b4b4" stroke="#b4b4b4" stroke-width="0.9">E</text>
<rect x="570.5" y="1287.2" width="29.6" height="29.8" rx="3.5" fill="#101010" stroke="#b4b4b4" stroke-width="2.6"/>
<text transform="translate(585.3 1310.3) scale(0.84 1)" font-size="22.3" text-anchor="middle" fill="#b4b4b4" stroke="#b4b4b4" stroke-width="0.9">E</text>
<rect x="587.6" y="1287.2" width="29.6" height="29.8" rx="3.5" fill="#101010" stroke="#b4b4b4" stroke-width="2.6"/>
<text transform="translate(602.4 1310.3) scale(0.84 1)" font-size="22.3" text-anchor="middle" fill="#b4b4b4" stroke="#b4b4b4" stroke-width="0.9">E</text>
<rect x="623.3" y="1287.2" width="29.6" height="29.8" rx="3.5" fill="#101010" stroke="#b4b4b4" stroke-width="2.6"/>
<text transform="translate(638.1 1310.3) scale(0.84 1)" font-size="22.3" text-anchor="middle" fill="#b4b4b4" stroke="#b4b4b4" stroke-width="0.9">E</text>
<rect x="662.1" y="1287.2" width="29.6" height="29.8" rx="3.5" fill="#101010" stroke="#b4b4b4" stroke-width="2.6"/>
<text transform="translate(676.9 1310.3) scale(0.84 1)" font-size="22.3" text-anchor="middle" fill="#b4b4b4" stroke="#b4b4b4" stroke-width="0.9">E</text>
<rect x="714.5" y="1287.2" width="29.6" height="29.8" rx="3.5" fill="#101010" stroke="#b4b4b4" stroke-width="2.6"/>
<text transform="translate(729.3 1310.3) scale(0.84 1)" font-size="22.3" text-anchor="middle" fill="#b4b4b4" stroke="#b4b4b4" stroke-width="0.9">E</text>
<rect x="731.4" y="1287.2" width="29.6" height="29.8" rx="3.5" fill="#101010" stroke="#b4b4b4" stroke-width="2.6"/>
<text transform="translate(746.2 1310.3) scale(0.84 1)" font-size="22.3" text-anchor="middle" fill="#b4b4b4" stroke="#b4b4b4" stroke-width="0.9">E</text>
<rect x="769.5" y="1287.2" width="29.6" height="29.8" rx="3.5" fill="#101010" stroke="#b4b4b4" stroke-width="2.6"/>
<text transform="translate(784.3 1310.3) scale(0.84 1)" font-size="22.3" text-anchor="middle" fill="#b4b4b4" stroke="#b4b4b4" stroke-width="0.9">E</text>
<rect x="805.6" y="1287.2" width="29.6" height="29.8" rx="3.5" fill="#101010" stroke="#b4b4b4" stroke-width="2.6"/>
<text transform="translate(820.4 1310.3) scale(0.84 1)" font-size="22.3" text-anchor="middle" fill="#b4b4b4" stroke="#b4b4b4" stroke-width="0.9">E</text>
<path d="M861.6 1315.0V1295.6L876.3 1285.6L891.0 1295.6V1315.0Q891.0 1317.0 889.0 1317.0H863.6Q861.6 1317.0 861.6 1315.0Z" fill="#101010" stroke="#089981" stroke-width="2.6" stroke-linejoin="round"/>
<text transform="translate(876.3 1310.3) scale(0.84 1)" font-size="22.3" text-anchor="middle" fill="#089981" stroke="#089981" stroke-width="0.9">E</text>
<rect x="878.2" y="1287.2" width="29.6" height="29.8" rx="3.5" fill="#101010" stroke="#b4b4b4" stroke-width="2.6"/>
<text transform="translate(893.0 1310.3) scale(0.84 1)" font-size="22.3" text-anchor="middle" fill="#b4b4b4" stroke="#b4b4b4" stroke-width="0.9">E</text>
<rect x="914.2" y="1287.2" width="29.6" height="29.8" rx="3.5" fill="#101010" stroke="#b4b4b4" stroke-width="2.6"/>
<text transform="translate(929.0 1310.3) scale(0.84 1)" font-size="22.3" text-anchor="middle" fill="#b4b4b4" stroke="#b4b4b4" stroke-width="0.9">E</text>
<rect x="950.2" y="1287.2" width="29.6" height="29.8" rx="3.5" fill="#101010" stroke="#b4b4b4" stroke-width="2.6"/>
<text transform="translate(965.0 1310.3) scale(0.84 1)" font-size="22.3" text-anchor="middle" fill="#b4b4b4" stroke="#b4b4b4" stroke-width="0.9">E</text>
<rect x="999.6" y="1287.2" width="29.6" height="29.8" rx="3.5" fill="#101010" stroke="#b4b4b4" stroke-width="2.6"/>
<text transform="translate(1014.4 1310.3) scale(0.84 1)" font-size="22.3" text-anchor="middle" fill="#b4b4b4" stroke="#b4b4b4" stroke-width="0.9">E</text>
<path d="M1023.3 1288.4H1048.7Q1050.7 1288.4 1050.7 1290.4V1310.5L1036.0 1319.6L1021.3 1310.5V1290.4Q1021.3 1288.4 1023.3 1288.4Z" fill="#101010" stroke="#cf2f41" stroke-width="2.6" stroke-linejoin="round"/>
<text transform="translate(1036.0 1310.0) scale(0.84 1)" font-size="22.3" text-anchor="middle" fill="#cf2f41" stroke="#cf2f41" stroke-width="0.9">E</text>
<path d="M1050.5 1315.5Q1056 1319.5 1061 1318.2" fill="none" stroke="#f59a00" stroke-width="2"/>
<path d="M1056.5 1288.4H1081.9Q1083.9 1288.4 1083.9 1290.4V1310.5L1069.2 1319.6L1054.5 1310.5V1290.4Q1054.5 1288.4 1056.5 1288.4Z" fill="#101010" stroke="#cf2f41" stroke-width="2.6" stroke-linejoin="round"/>
<text transform="translate(1069.2 1310.0) scale(0.84 1)" font-size="22.3" text-anchor="middle" fill="#cf2f41" stroke="#cf2f41" stroke-width="0.9">E</text>
<path d="M1087.9 1315.0V1295.6L1102.6 1285.6L1117.3 1295.6V1315.0Q1117.3 1317.0 1115.3 1317.0H1089.9Q1087.9 1317.0 1087.9 1315.0Z" fill="#101010" stroke="#089981" stroke-width="2.6" stroke-linejoin="round"/>
<text transform="translate(1102.6 1310.3) scale(0.84 1)" font-size="22.3" text-anchor="middle" fill="#089981" stroke="#089981" stroke-width="0.9">E</text>
<path d="M1142.3 1288.4H1167.7Q1169.7 1288.4 1169.7 1290.4V1310.5L1155.0 1319.6L1140.3 1310.5V1290.4Q1140.3 1288.4 1142.3 1288.4Z" fill="#101010" stroke="#cf2f41" stroke-width="2.6" stroke-linejoin="round"/>
<text transform="translate(1155.0 1310.0) scale(0.84 1)" font-size="22.3" text-anchor="middle" fill="#cf2f41" stroke="#cf2f41" stroke-width="0.9">E</text>
<rect x="1166.1" y="1287.2" width="29.6" height="29.8" rx="3.5" fill="#101010" stroke="#c508ea" stroke-width="2.6"/>
<text transform="translate(1180.9 1310.3) scale(0.84 1)" font-size="22.3" text-anchor="middle" fill="#c508ea" stroke="#c508ea" stroke-width="0.9">E</text>
<text x="1166.4" y="1308.6" font-size="18.5" font-weight="bold" text-anchor="middle" fill="#c508ea">≈</text>
</g>
<path fill="#dcdedd" d="M20 1407.9H41.1V1432.9H30V1418.2H20Z"/>
<circle cx="48.9" cy="1412.9" r="4.8" fill="#dcdedd"/>
<path fill="#dcdedd" d="M59.2 1407.9H70.6L61.6 1432.9H49.4Z"/>
<text x="82.5" y="1432.9" font-size="35" fill="#dcdedd" font-weight="bold" textLength="204.5" lengthAdjust="spacingAndGlyphs">TradingView</text>
</svg>
</body></html>
